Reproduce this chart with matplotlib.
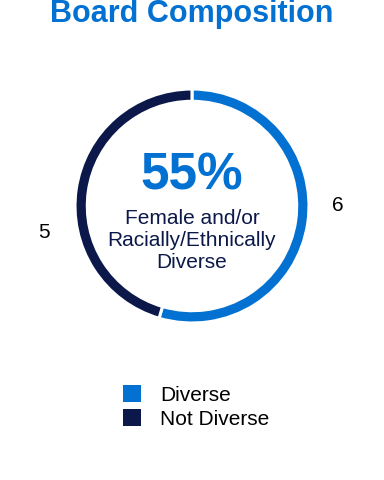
import matplotlib
matplotlib.use("Agg")
import matplotlib.pyplot as plt
from matplotlib.patches import Patch

# data
categories = ["Diverse", "Not Diverse"]
counts = [6, 5]
colors = ["#0271D1", "#0B1849"]
center_pct = "55%"
center_text = "Female and/or\nRacially/Ethnically\nDiverse"
title = "Board Composition"

plt.rcParams['font.family'] = ['Liberation Sans', 'DejaVu Sans']

fig = plt.figure(figsize=(3.84, 4.8), dpi=100)
R = 117.0  # donut radius in pixels
ax = fig.add_axes([0, 0, 1, 1])
ax.axis('off')

wedges, _ = ax.pie(counts, colors=colors, startangle=90, counterclock=False,
                   radius=1.0, wedgeprops=dict(width=0.105, edgecolor='white', linewidth=2.2))
ax.set_xlim(-192 / R, 192 / R)
ax.set_ylim(-274 / R, 206 / R)

# slice count labels
ax.text(146 / R, 0 / R, str(counts[0]), fontsize=15, ha='center', va='center', color='black')
ax.text(-148 / R, -27 / R, str(counts[1]), fontsize=15, ha='center', va='center', color='black')

# centre text
ax.text(0, 30 / R, center_pct, fontsize=37, fontweight='bold', color=colors[0],
        ha='center', va='center')
ax.text(0, -35 / R, center_text, fontsize=15, color=colors[1], ha='center', va='center',
        linespacing=1.2)

fig.text(0.5, 1 - 22 / 480, title, fontsize=22, fontweight='bold', color=colors[0],
         ha='center', va='baseline')

handles = [Patch(facecolor=c, edgecolor='none') for c in colors]
fig.legend(handles, categories, loc='upper left', bbox_to_anchor=(123 / 384, 1 - 385 / 480),
           frameon=False, fontsize=15, handlelength=0.87, handleheight=0.87,
           handletextpad=0.9, labelspacing=0.22, borderpad=0, borderaxespad=0)

fig.savefig("out.png", dpi=100)
